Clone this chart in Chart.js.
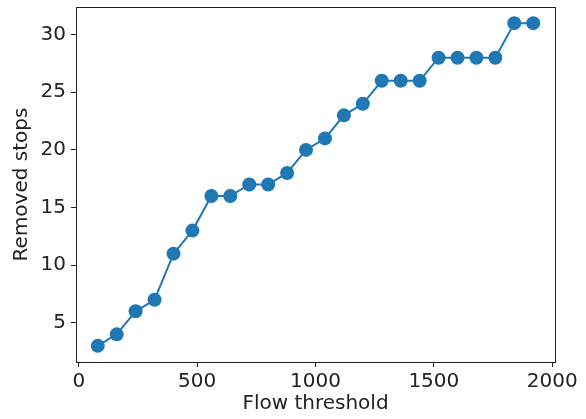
<!DOCTYPE html>
<html>
<head>
<meta charset="utf-8">
<script src="https://cdn.jsdelivr.net/npm/chart.js@4"></script>
<style>
  html, body { margin: 0; padding: 0; background: #fff; }
  #wrap { width: 586px; height: 419px; }
</style>
</head>
<body>
<div id="wrap"><canvas id="chart"></canvas></div>
<script>
// Data
const flowThreshold = [80, 160, 240, 320, 400, 480, 560, 640, 720, 800, 880, 960,
                       1040, 1120, 1200, 1280, 1360, 1440, 1520, 1600, 1680, 1760, 1840, 1920];
const removedStops = [3, 4, 6, 7, 11, 13, 16, 16, 17, 17, 18, 20,
                      21, 23, 24, 26, 26, 26, 28, 28, 28, 28, 31, 31];
const xTicks = [0, 500, 1000, 1500, 2000];
const yTicks = [5, 10, 15, 20, 25, 30];

const blue = '#1f77b4';
const ink = '#222222';
const font = { family: "'DejaVu Sans', sans-serif", size: 20 };

// matplotlib-like frame around the plot area
const framePlugin = {
    id: 'frame',
    afterDraw(chart) {
        const { ctx, chartArea: a } = chart;
        ctx.save();
        ctx.strokeStyle = ink;
        ctx.lineWidth = 1;
        ctx.strokeRect(a.left + 0.5, a.top + 0.5, a.right - a.left, a.bottom - a.top);
        ctx.restore();
    }
};

new Chart(document.getElementById('chart'), {
    type: 'scatter',
    data: {
        datasets: [{
            data: flowThreshold.map((x, i) => ({ x: x, y: removedStops[i] })),
            showLine: true,
            borderColor: blue,
            backgroundColor: blue,
            borderWidth: 2,
            pointRadius: 7,
            pointHoverRadius: 7,
            pointBorderWidth: 0
        }]
    },
    options: {
        responsive: true,
        maintainAspectRatio: false,
        animation: false,
        layout: { padding: { top: 5, right: 31, left: 0, bottom: 0 } },
        plugins: {
            legend: { display: false },
            tooltip: { enabled: false }
        },
        scales: {
            x: {
                type: 'linear',
                min: -12,
                max: 2012,
                afterBuildTicks: s => { s.ticks = xTicks.map(v => ({ value: v })); },
                afterFit: s => {
                    s.height = 57;
                    s.paddingLeft = 0;
                    s.paddingRight = 0;
                },
                border: { display: false },
                grid: { drawOnChartArea: false, drawTicks: true, tickLength: 5, color: ink },
                ticks: { color: ink, font: font, padding: 3, maxRotation: 0, callback: v => String(v) },
                title: {
                    display: true,
                    text: 'Flow threshold',
                    color: ink,
                    font: font,
                    padding: { top: 0, bottom: 3 }
                }
            },
            y: {
                type: 'linear',
                min: 1.6,
                max: 32.4,
                afterBuildTicks: s => { s.ticks = yTicks.map(v => ({ value: v })); },
                afterFit: s => {
                    s.width = 76;
                    s.paddingTop = 0;
                    s.paddingBottom = 0;
                },
                border: { display: false },
                grid: { drawOnChartArea: false, drawTicks: true, tickLength: 5, color: ink },
                ticks: { color: ink, font: font, padding: 5, callback: v => String(v) },
                title: {
                    display: true,
                    text: 'Removed stops',
                    color: ink,
                    font: font,
                    padding: { top: 10, bottom: 0 }
                }
            }
        }
    },
    plugins: [framePlugin]
});
</script>
</body>
</html>
